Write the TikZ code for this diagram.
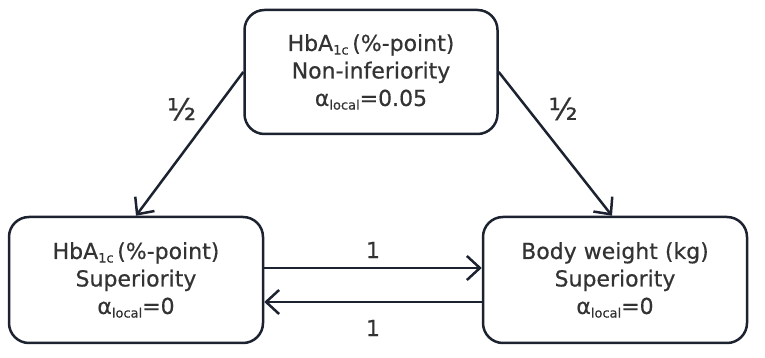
\documentclass[tikz,border=0pt]{standalone}
\usepackage{fontspec}
\setmainfont{DejaVu Sans}[FakeBold=0.5]
\usetikzlibrary{arrows.meta}
\definecolor{linec}{HTML}{1C2230}
\definecolor{textc}{HTML}{333333}
\newcommand{\lsub}[1]{\raisebox{-0.3ex}{\fontsize{13}{13}\selectfont #1}}
\tikzset{
  boxnode/.style={draw=linec, line width=2.5pt, rounded corners=20pt, align=center,
    text=textc, font=\fontsize{22}{27.5}\selectfont, inner sep=0pt},
  arr/.style={draw=linec, line width=2.5pt, -{Straight Barb[length=13pt,width=24pt,line width=2.5pt]}},
  lbl/.style={text=textc, font=\fontsize{22}{22}\selectfont, inner sep=0pt},
  half/.style={text=textc, font=\fontsize{30}{30}\selectfont, inner sep=0pt}
}
\begin{document}
\begin{tikzpicture}[x=1pt,y=1pt]
\useasboundingbox (0,0) rectangle (765,358);
\node[boxnode, minimum width=253pt, minimum height=124pt] (top) at (371,286)
  {HbA\lsub{1c}\,(\%-point)\\Non-inferiority\\α\lsub{local}=0.05};
\node[boxnode, minimum width=254pt, minimum height=126pt] (bl) at (136,78)
  {HbA\lsub{1c}\,(\%-point)\\Superiority\\α\lsub{local}=0};
\node[boxnode, minimum width=264pt, minimum height=126pt] (br) at (615,78)
  {Body weight (kg)\\Superiority\\α\lsub{local}=0};
\draw[arr] (top.west) -- node[half, pos=.37, xshift=-22pt, yshift=16pt] {½} (bl.north);
\draw[arr] (top.east) -- node[half, pos=.375, xshift=22pt, yshift=17pt] {½} ([xshift=-3pt]br.north);
\draw[arr] ([yshift=12pt]bl.east) -- node[lbl, midway, yshift=18pt] {1} ([yshift=12pt]br.west);
\draw[arr] ([yshift=-22pt]br.west) -- node[lbl, midway, yshift=-26pt] {1} ([yshift=-22pt]bl.east);
\end{tikzpicture}
\end{document}
